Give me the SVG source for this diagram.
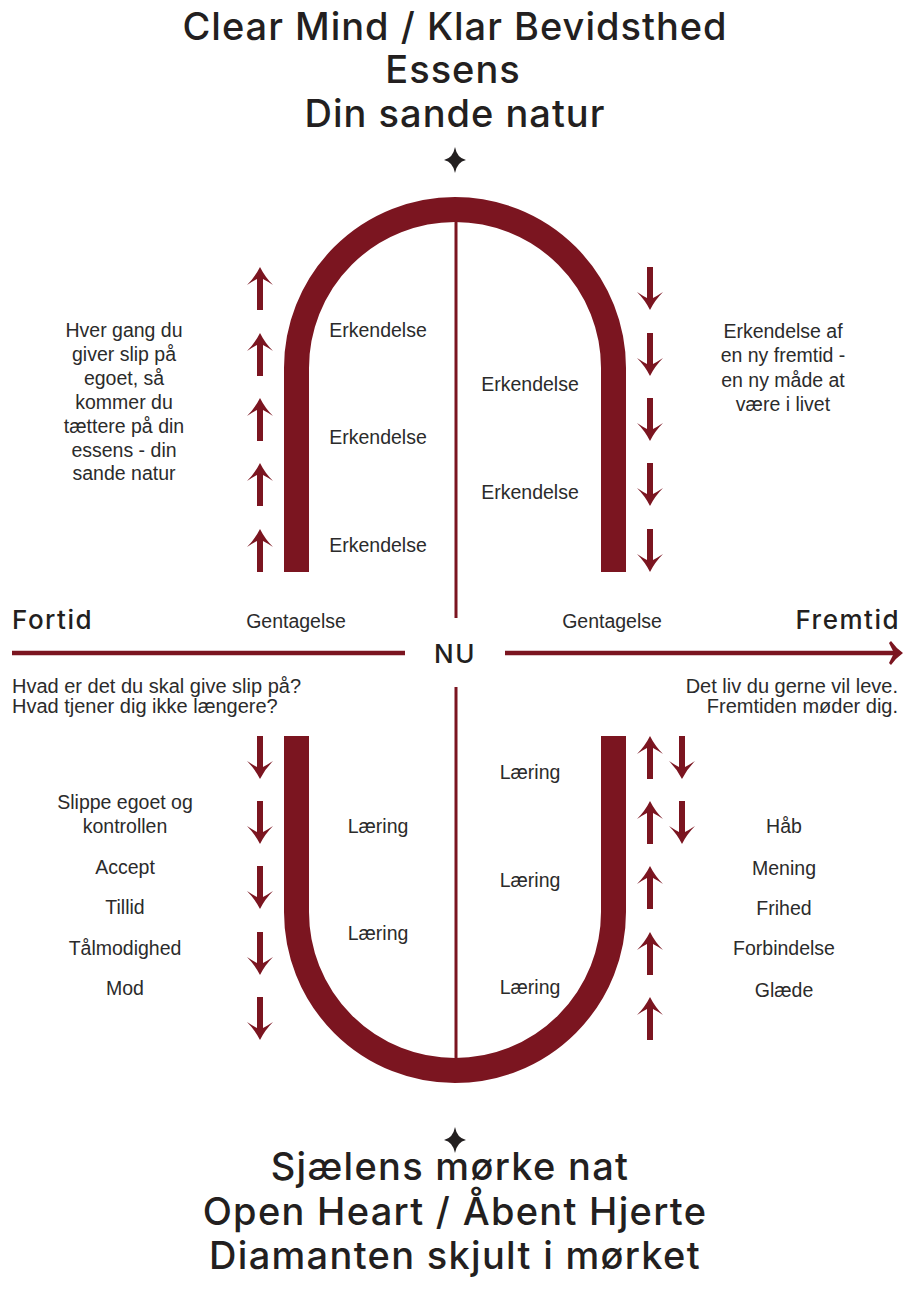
<svg xmlns="http://www.w3.org/2000/svg" width="903" height="1298" viewBox="0 0 903 1298">
<style>
.t{font-family:"Inter","Liberation Sans",sans-serif;font-weight:500;fill:#231f20;text-anchor:middle}
.h{font-size:38px;letter-spacing:1px}
.b{font-size:38px;letter-spacing:1.3px}
.l{font-family:"Liberation Sans",Arial,sans-serif;font-size:19.5px;fill:#2b2b2b;text-anchor:middle}
.s{font-family:"Liberation Sans",Arial,sans-serif;font-size:20px;fill:#2b2b2b}
.ax{font-family:"Inter","Liberation Sans",sans-serif;font-weight:500;font-size:26px;letter-spacing:1.5px;fill:#231f20}
.band{fill:none;stroke:#7b1520;stroke-width:25}
.ln{stroke:#7b1520;stroke-width:3}
.hz{stroke:#7b1520;stroke-width:4.5}
.ar{fill:#7b1520}
</style>
<defs>
<path id="up" d="M0,0 Q5,10 13,18 Q7,14 3,12 L3,43 L-3,43 L-3,12 Q-7,14 -13,18 Q-5,10 0,0 Z"/>
<path id="dn" d="M0,43 Q5,33 13,25 Q7,29 3,31 L3,0 L-3,0 L-3,31 Q-7,29 -13,25 Q-5,33 0,43 Z"/>
<path id="star" d="M0,-13 Q2,-2 11,0 Q2,2 0,13 Q-2,2 -11,0 Q-2,-2 0,-13 Z"/>
</defs>

<g id="title-top">
<text class="t h" x="455" y="40">Clear Mind / Klar Bevidsthed</text>
<text class="t h" x="453" y="83">Essens</text>
<text class="t h" x="455" y="127">Din sande natur</text>
<use href="#star" x="455" y="160" fill="#231f20"/>
</g>

<g id="arch-top">
<path class="band" d="M296.5,572 V368 A158.5,158.5 0 0 1 613.5,368 V572"/>
<line class="ln" x1="456" y1="222" x2="456" y2="618"/>
<text class="l" x="378" y="337">Erkendelse</text>
<text class="l" x="378" y="444">Erkendelse</text>
<text class="l" x="378" y="552">Erkendelse</text>
<text class="l" x="530" y="391">Erkendelse</text>
<text class="l" x="530" y="499">Erkendelse</text>
</g>

<g id="arch-bottom">
<path class="band" d="M296.5,736 V912 A158.5,158.5 0 0 0 613.5,912 V736"/>
<line class="ln" x1="456" y1="687" x2="456" y2="1060"/>
<text class="l" x="378" y="833">Læring</text>
<text class="l" x="378" y="940">Læring</text>
<text class="l" x="530" y="779">Læring</text>
<text class="l" x="530" y="887">Læring</text>
<text class="l" x="530" y="994">Læring</text>
</g>

<g id="connectors" class="ar">
<use href="#up" x="260" y="267"/><use href="#up" x="260" y="333"/><use href="#up" x="260" y="398"/><use href="#up" x="260" y="463"/><use href="#up" x="260" y="529"/>
<use href="#dn" x="650" y="267"/><use href="#dn" x="650" y="333"/><use href="#dn" x="650" y="398"/><use href="#dn" x="650" y="463"/><use href="#dn" x="650" y="529"/>
<use href="#dn" x="260" y="736"/><use href="#dn" x="260" y="801"/><use href="#dn" x="260" y="866"/><use href="#dn" x="260" y="932"/><use href="#dn" x="260" y="997"/>
<use href="#up" x="650" y="736"/><use href="#up" x="650" y="801"/><use href="#up" x="650" y="866"/><use href="#up" x="650" y="932"/><use href="#up" x="650" y="997"/>
<use href="#dn" x="682" y="736"/><use href="#dn" x="682" y="801"/>
<line class="hz" x1="12" y1="653" x2="405" y2="653"/>
<line class="hz" x1="505" y1="653" x2="896" y2="653"/>
<path d="M903,653 Q896,648 891,641 L889,643 Q892,649 893,651 L893,655 Q892,657 889,663 L891,665 Q896,658 903,653 Z"/>
</g>

<g id="axis">
<text class="ax" x="12" y="629">Fortid</text>
<text class="ax" x="900" y="629" text-anchor="end">Fremtid</text>
<text class="ax" x="455" y="663" text-anchor="middle" font-size="28" letter-spacing="1">NU</text>
<text class="l" x="296" y="628">Gentagelse</text>
<text class="l" x="612" y="628">Gentagelse</text>
<text class="s" x="12" y="693">Hvad er det du skal give slip på?</text>
<text class="s" x="12" y="713">Hvad tjener dig ikke længere?</text>
<text class="s" x="898" y="693" text-anchor="end">Det liv du gerne vil leve.</text>
<text class="s" x="898" y="713" text-anchor="end">Fremtiden møder dig.</text>
</g>

<g id="left-top-text">
<text class="l" x="124" y="337">Hver gang du</text>
<text class="l" x="124" y="361">giver slip på</text>
<text class="l" x="124" y="385">egoet, så</text>
<text class="l" x="124" y="409">kommer du</text>
<text class="l" x="124" y="433">tættere på din</text>
<text class="l" x="124" y="457">essens - din</text>
<text class="l" x="124" y="480">sande natur</text>
</g>

<g id="right-top-text">
<text class="l" x="783" y="338">Erkendelse af</text>
<text class="l" x="783" y="362">en ny fremtid -</text>
<text class="l" x="783" y="387">en ny måde at</text>
<text class="l" x="783" y="411">være i livet</text>
</g>

<g id="left-bottom-text">
<text class="l" x="125" y="809">Slippe egoet og</text>
<text class="l" x="125" y="833">kontrollen</text>
<text class="l" x="125" y="874">Accept</text>
<text class="l" x="125" y="914">Tillid</text>
<text class="l" x="125" y="955">Tålmodighed</text>
<text class="l" x="125" y="995">Mod</text>
</g>

<g id="right-bottom-text">
<text class="l" x="784" y="833">Håb</text>
<text class="l" x="784" y="875">Mening</text>
<text class="l" x="784" y="915">Frihed</text>
<text class="l" x="784" y="955">Forbindelse</text>
<text class="l" x="784" y="997">Glæde</text>
</g>

<g id="title-bottom">
<use href="#star" x="455" y="1140" fill="#231f20"/>
<text class="t b" x="450" y="1180">Sjælens mørke nat</text>
<text class="t b" x="455" y="1225">Open Heart / Åbent Hjerte</text>
<text class="t b" x="455" y="1269">Diamanten skjult i mørket</text>
</g>
</svg>
